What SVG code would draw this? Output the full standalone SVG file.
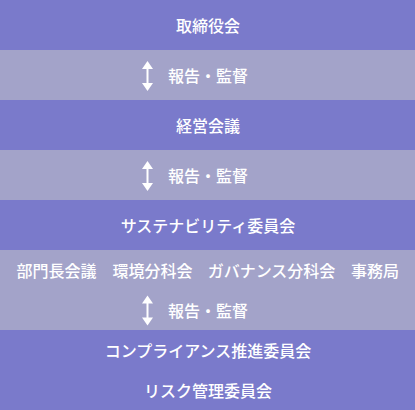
<svg xmlns="http://www.w3.org/2000/svg" width="415" height="410" viewBox="0 0 415 410">
<style>
.dk{fill:#7a7acb}
.lt{fill:#a3a3c9}
text{font-family:"Noto Sans CJK JP","Noto Sans",sans-serif;font-size:16px;font-weight:500;fill:#ffffff;text-anchor:middle;dominant-baseline:central}
.arr{fill:#ffffff}
</style>
<defs>
<path id="dbl" class="arr" d="M0,-15 L5.5,-7 L1,-7 L1,7 L5.5,7 L0,15 L-5.5,7 L-1,7 L-1,-7 L-5.5,-7 Z"/>
</defs>
<g id="bands">
<rect class="dk" x="0" y="0" width="415" height="50"/>
<rect class="lt" x="0" y="50" width="415" height="50"/>
<rect class="dk" x="0" y="100" width="415" height="50"/>
<rect class="lt" x="0" y="150" width="415" height="50"/>
<rect class="dk" x="0" y="200" width="415" height="50"/>
<rect class="lt" x="0" y="250" width="415" height="80"/>
<rect class="dk" x="0" y="330" width="415" height="80"/>
</g>
<g id="node-board"><text x="208" y="25">取締役会</text></g>
<g id="node-mgmt"><text x="208" y="125">経営会議</text></g>
<g id="node-sus"><text x="208" y="225">サステナビリティ委員会</text></g>
<g id="node-sub">
<text x="56.5" y="270">部門長会議</text>
<text x="152.5" y="270">環境分科会</text>
<text x="271.5" y="270">ガバナンス分科会</text>
<text x="375" y="270">事務局</text>
</g>
<g id="node-comp"><text x="208" y="350">コンプライアンス推進委員会</text></g>
<g id="node-risk"><text x="208" y="390">リスク管理委員会</text></g>
<g id="connectors">
<use href="#dbl" x="147.5" y="76"/>
<text x="208" y="75">報告・監督</text>
<use href="#dbl" x="147.5" y="176"/>
<text x="208" y="175">報告・監督</text>
<use href="#dbl" x="147.5" y="310.5"/>
<text x="208" y="310">報告・監督</text>
</g>
</svg>
